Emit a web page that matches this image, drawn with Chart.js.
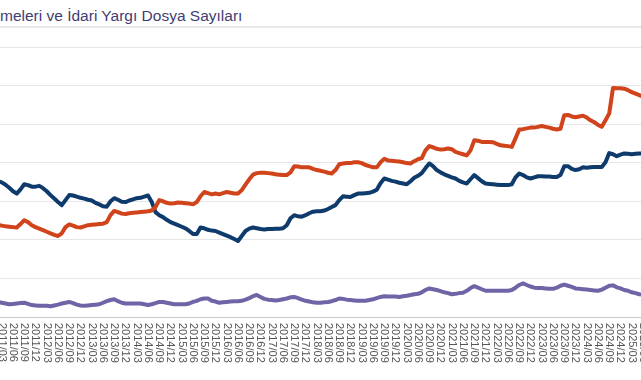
<!DOCTYPE html>
<html lang="tr">
<head>
<meta charset="utf-8">
<script src="https://cdn.jsdelivr.net/npm/chart.js@4.4.1/dist/chart.umd.min.js"></script>
<style>
  body { margin: 0; width: 641px; height: 380px; overflow: hidden; background: #fff; position: relative; font-family: "Liberation Sans", Arial, sans-serif; }
  #baslik { position: absolute; left: 0; top: 6px; font-size: 15.5px; line-height: 20px; color: #3f3d72; white-space: nowrap; }
  #cizgi { position: absolute; left: 0; top: 26px; width: 641px; height: 2px; background: #e8e8e8; }
  #kutu { position: absolute; left: -2px; top: 47px; width: 645px; height: 330px; }
</style>
</head>
<body>
<div id="baslik">meleri ve İdari Yargı Dosya Sayıları</div>
<div id="cizgi"></div>
<div id="kutu"><canvas id="grafik"></canvas></div>
<script>
// aylar: 2011/02 - 2025/06 (görünen kısım)
const aylar = [];
for (let yil = 2011; yil <= 2025; yil++) {
  for (let ay = 1; ay <= 12; ay++) {
    if (yil === 2011 && ay < 2) continue;
    if (yil === 2025 && ay > 6) break;
    aylar.push(yil + "/" + String(ay).padStart(2, "0"));
  }
}
const ceyrekAylari = ["03", "06", "09", "12"];

const turuncu = [
  23.8, 23.7, 23.5, 23.4, 23.3, 23.2, 24.1, 25.1, 24.6, 23.8,
  23.3, 22.9, 22.5, 22.1, 21.7, 21.3, 21.0, 21.7, 23.3, 24.0,
  23.7, 23.3, 23.2, 23.5, 23.8, 23.9, 24.0, 24.1, 24.2, 24.6,
  26.4, 27.5, 27.2, 26.8, 26.7, 26.9, 27.0, 27.1, 27.2, 27.3,
  27.4, 27.6, 28.5, 30.3, 30.0, 29.6, 29.4, 29.5, 29.7, 29.6,
  29.5, 29.4, 29.2, 29.8, 31.3, 32.4, 32.1, 31.8, 32.0, 31.8,
  32.1, 32.4, 32.2, 32.0, 32.0, 32.9, 34.3, 35.7, 36.9, 37.3,
  37.4, 37.4, 37.3, 37.2, 37.0, 36.9, 36.8, 36.8, 37.5, 39.1,
  39.0, 38.8, 38.8, 38.8, 38.4, 38.1, 37.9, 37.7, 37.4, 37.2,
  38.1, 39.6, 39.8, 39.9, 39.9, 40.1, 40.1, 39.9, 39.4, 39.1,
  38.8, 38.8, 40.1, 41.0, 40.6, 40.5, 40.4, 40.3, 40.1, 39.9,
  39.8, 40.4, 40.9, 41.2, 43.2, 44.3, 44.0, 43.6, 43.4, 43.5,
  43.7, 43.5, 42.8, 42.5, 42.2, 41.9, 43.2, 45.8, 45.7, 45.4,
  45.4, 45.4, 45.3, 44.9, 44.5, 44.4, 44.3, 44.1, 46.3, 48.6,
  48.7, 48.9, 49.1, 49.1, 49.3, 49.5, 49.3, 49.1, 48.8, 48.6,
  48.8, 52.3, 52.4, 52.0, 51.8, 52.0, 52.2, 51.7, 51.0, 50.5,
  49.8, 49.3, 51.0, 52.8, 59.4, 59.3, 59.3, 59.2, 58.8, 58.3,
  57.9, 57.5, 57.1
];

const lacivert = [
  35.2, 34.9, 34.3, 33.5, 32.6, 32.0, 33.1, 34.4, 34.2, 33.8,
  33.8, 34.0, 33.4, 32.6, 31.6, 30.7, 29.8, 29.0, 30.3, 31.6,
  31.5, 31.2, 30.9, 30.7, 30.4, 30.2, 29.6, 29.2, 28.7, 28.6,
  30.0, 30.8, 30.4, 29.9, 29.8, 30.2, 30.5, 30.8, 30.9, 31.2,
  31.5, 29.8, 27.2, 26.4, 25.9, 25.2, 24.6, 24.2, 23.8, 23.4,
  23.0, 22.3, 21.5, 21.5, 23.2, 23.0, 22.6, 22.4, 22.3, 21.9,
  21.5, 21.1, 20.7, 20.2, 19.7, 21.0, 22.3, 22.9, 23.2, 23.0,
  22.8, 22.7, 22.8, 22.8, 22.9, 22.9, 23.0, 23.8, 25.6, 26.4,
  26.1, 26.0, 26.4, 26.9, 27.3, 27.4, 27.4, 27.6, 28.0, 28.5,
  29.0, 30.3, 31.3, 31.2, 31.1, 31.6, 32.0, 32.0, 32.1, 32.2,
  32.5, 33.0, 34.7, 35.9, 35.6, 35.3, 35.1, 34.8, 34.6, 34.4,
  35.2, 36.1, 36.6, 37.3, 38.6, 39.8, 39.1, 38.1, 37.5, 37.0,
  36.6, 36.2, 35.9, 35.3, 34.9, 34.6, 35.7, 36.8, 36.0, 35.2,
  34.6, 34.5, 34.4, 34.3, 34.2, 34.2, 34.2, 34.4, 36.2, 37.2,
  36.8, 36.2, 35.9, 36.2, 36.5, 36.5, 36.4, 36.4, 36.3, 36.3,
  36.8, 39.1, 39.1, 38.4, 38.1, 38.3, 38.8, 38.7, 38.8, 38.9,
  38.9, 38.9, 40.1, 42.5, 42.2, 41.7, 42.1, 42.4, 42.3, 42.2,
  42.3, 42.4, 42.4
];

const mor = [
  3.9, 3.7, 3.5, 3.3, 3.4, 3.5, 3.6, 3.7, 3.4, 3.1,
  3.0, 2.9, 2.9, 2.9, 2.8, 3.0, 3.2, 3.5, 3.7, 3.9,
  3.6, 3.2, 3.0, 2.9, 3.0, 3.1, 3.2, 3.3, 3.7, 4.1,
  4.4, 4.6, 4.1, 3.7, 3.5, 3.5, 3.5, 3.5, 3.5, 3.3,
  3.1, 3.3, 3.6, 3.9, 3.9, 3.7, 3.5, 3.3, 3.3, 3.3,
  3.3, 3.5, 3.9, 4.2, 4.6, 4.8, 4.8, 4.2, 4.0, 3.7,
  3.8, 3.9, 4.0, 4.1, 4.1, 4.2, 4.5, 4.9, 5.4, 5.7,
  5.2, 4.7, 4.5, 4.4, 4.3, 4.4, 4.6, 4.8, 5.1, 5.2,
  4.9, 4.5, 4.2, 4.0, 3.8, 3.7, 3.7, 3.8, 3.9, 4.1,
  4.4, 4.8, 4.7, 4.5, 4.4, 4.3, 4.2, 4.2, 4.2, 4.4,
  4.6, 4.9, 5.2, 5.4, 5.3, 5.3, 5.3, 5.2, 5.4, 5.5,
  5.7, 5.9, 6.0, 6.4, 7.0, 7.4, 7.2, 7.0, 6.7, 6.4,
  6.2, 5.9, 6.0, 6.2, 6.3, 6.8, 7.5, 8.0, 7.6, 7.2,
  6.8, 6.8, 6.8, 6.8, 6.8, 6.8, 6.8, 7.0, 7.6, 8.3,
  8.7, 8.3, 7.9, 7.6, 7.5, 7.5, 7.4, 7.3, 7.3, 7.6,
  8.1, 8.4, 8.1, 7.8, 7.4, 7.3, 7.2, 7.1, 7.0, 6.9,
  6.8, 7.1, 7.6, 8.1, 8.2, 7.7, 7.4, 7.0, 6.8, 6.4,
  6.2, 5.9, 5.8
];

// etiketler yukaridan asagiya okunsun diye (saat yonunde 90 derece)
class DikEksen extends Chart.CategoryScale {
  _computeLabelItems(chartArea) {
    const items = super._computeLabelItems(chartArea);
    items.forEach(item => {
      const o = item.options;
      if (o.rotation) {
        const lh = item.font ? item.font.lineHeight : 13.2;
        o.rotation = -o.rotation;
        o.textAlign = "left";
        o.translation = [o.translation[0] + lh, o.translation[1]];
      }
    });
    return items;
  }
}
DikEksen.id = "dikeksen";
DikEksen.defaults = Chart.CategoryScale.defaults;
Chart.register(DikEksen);

const cizgiAyar = {
  borderWidth: 4,
  pointRadius: 0,
  tension: 0,
  borderJoinStyle: "round",
  borderCapStyle: "round",
  fill: false
};

new Chart(document.getElementById("grafik"), {
  type: "line",
  data: {
    labels: aylar,
    datasets: [
      { label: "Seri 1", data: turuncu, borderColor: "#d0431b", ...cizgiAyar },
      { label: "Seri 2", data: lacivert, borderColor: "#0e3a6c", ...cizgiAyar },
      { label: "Seri 3", data: mor, borderColor: "#6d65a6", ...cizgiAyar }
    ]
  },
  options: {
    responsive: true,
    maintainAspectRatio: false,
    animation: false,
    layout: { padding: 0 },
    plugins: {
      legend: { display: false },
      title: { display: false },
      tooltip: { enabled: false }
    },
    scales: {
      x: {
        type: "dikeksen",
        offset: false,
        grid: { display: false, drawTicks: false },
        border: { display: true, color: "#c9c9c9", width: 1 },
        ticks: {
          autoSkip: false,
          minRotation: 90,
          maxRotation: 90,
          padding: 6,
          color: "#555",
          font: { family: "Liberation Sans", size: 11 },
          callback: function (value, index) {
            const etiket = aylar[index];
            return ceyrekAylari.includes(etiket.slice(5)) ? etiket : "";
          }
        },
        afterFit: function (eksen) {
          eksen.height = 60;
          eksen.paddingLeft = 0;
          eksen.paddingRight = 0;
        }
      },
      y: {
        min: 0,
        max: 70,
        ticks: { display: false, stepSize: 10 },
        grid: { color: "#e6e6e6", drawTicks: false },
        border: { display: false },
        afterFit: function (eksen) {
          eksen.width = 0;
          eksen.paddingTop = 0;
          eksen.paddingBottom = 0;
        }
      }
    }
  }
});
</script>
</body>
</html>
